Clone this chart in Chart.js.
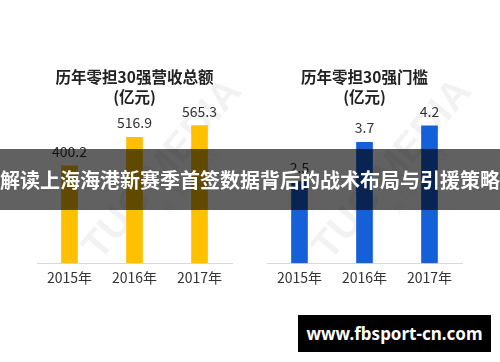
<!DOCTYPE html>
<html><head><meta charset="utf-8">
<script src="https://cdn.jsdelivr.net/npm/chart.js@4/dist/chart.umd.min.js"></script>
<style>
html,body{margin:0;padding:0;background:#fff;width:500px;height:362px;overflow:hidden;font-family:"Noto Sans CJK SC",sans-serif}
#c1{position:absolute;left:0;top:0}
#c2{position:absolute;left:250px;top:0}
#band{position:absolute;left:0;top:149px;width:500px;height:61px;background:rgba(0,0,0,0.62);color:#fff;font:bold 20px "Noto Sans CJK SC";line-height:61px;text-align:center;white-space:nowrap}
#site{position:absolute;left:298px;top:315px;width:193px;height:37px;background:#000;color:#fff;font:bold 17px "Noto Sans";line-height:37px;text-align:center;white-space:nowrap}
</style></head><body>
<canvas id="c1" width="250" height="362"></canvas>
<canvas id="c2" width="250" height="362"></canvas>
<div id="band">解读上海海港新赛季首签数据背后的战术布局与引援策略</div>
<div id="site">www.fbsport-cn.com</div>
<script>
const years = ['2015年', '2016年', '2017年'];
const revenue = [400.2, 516.9, 565.3];
const threshold = [2.5, 3.7, 4.2];
const revenueTitle = ['历年零担30强营收总额', '(亿元)'];
const thresholdTitle = ['历年零担30强门槛', '(亿元)'];

const FONT = '"Noto Sans CJK SC", sans-serif';

const decor = {
  id: 'decor',
  beforeDatasetsDraw(chart, args, opts) {
    const ctx = chart.ctx;
    ctx.save();
    ctx.translate(opts.wmX, 262);
    ctx.rotate(-50 * Math.PI / 180);
    ctx.fillStyle = 'rgba(0,0,0,0.05)';
    ctx.font = 'bold 40px "Liberation Sans"';
    ctx.textBaseline = 'alphabetic';
    ctx.fillText('TUC MEDIA', 0, 0);
    ctx.font = '13px ' + FONT;
    ctx.fillText('运 | 联 | 传 | 媒', 80, 22);
    ctx.restore();
  },
  afterDatasetsDraw(chart, args, opts) {
    const ctx = chart.ctx;
    const area = chart.chartArea;
    const cx = (area.left + area.right) / 2;
    ctx.save();
    ctx.fillStyle = '#222';
    ctx.font = 'bold 15.5px ' + FONT;
    ctx.textAlign = 'center';
    ctx.textBaseline = 'middle';
    ctx.fillText(opts.title[0], cx, 77);
    ctx.fillText(opts.title[1], cx, 97);
    const meta = chart.getDatasetMeta(0);
    const data = chart.data.datasets[0].data;
    ctx.font = '14px ' + FONT;
    ctx.fillStyle = '#333';
    ctx.textBaseline = 'alphabetic';
    meta.data.forEach((bar, i) => {
      ctx.fillText(String(data[i].toFixed(1)), bar.x, bar.y - 9);
    });
    ctx.restore();
  }
};

function makeChart(id, values, color, max, pad, title, wmX) {
  return new Chart(document.getElementById(id), {
    type: 'bar',
    data: { labels: years, datasets: [{ data: values, backgroundColor: color, barThickness: 16 }] },
    options: {
      responsive: false, animation: false, devicePixelRatio: 1,
      layout: { padding: { top: 107, left: pad[0], right: pad[1], bottom: 70 } },
      plugins: { legend: { display: false }, tooltip: { enabled: false }, title: { display: false },
        decor: { title: title, wmX: wmX } },
      scales: {
        x: { grid: { display: false, drawTicks: false, tickLength: 0 }, border: { color: '#d9d9d9', width: 1 },
          ticks: { color: '#333', font: { size: 14, family: FONT }, padding: 6 } },
        y: { display: false, min: 0, max: max }
      }
    },
    plugins: [decor]
  });
}

makeChart('c1', revenue, '#FFC000', 641.5, [37, 18], revenueTitle, 100);
makeChart('c2', threshold, '#1560D8', 4.78, [17, 38], thresholdTitle, 80);
</script>
</body></html>
